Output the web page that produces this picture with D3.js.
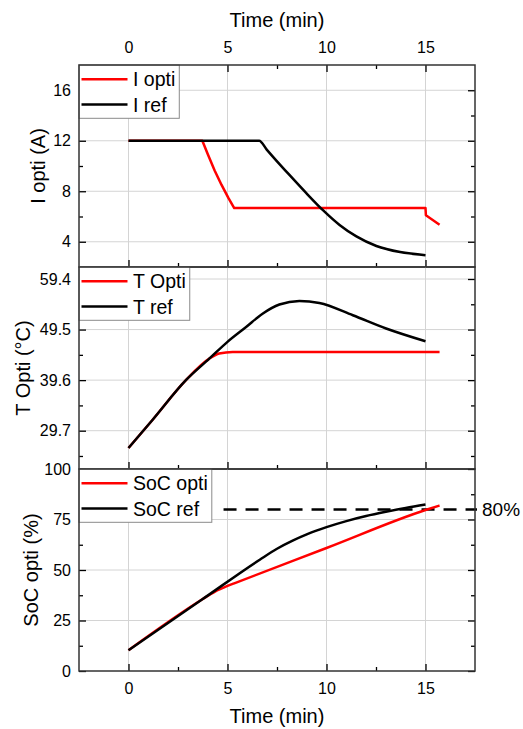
<!DOCTYPE html>
<html><head><meta charset="utf-8">
<script src="https://cdn.jsdelivr.net/npm/d3@7"></script>
<style>
body{margin:0;background:#fff}
svg{display:block}
text{font-family:"Liberation Sans",Arial,Helvetica,sans-serif;fill:#000}
</style>
</head><body>
<svg id="c" width="523" height="729"></svg>
<script>
// ---------- data ----------
const xTickValues = [0, 5, 10, 15];
const xMinorTicks = [2.5, 7.5, 12.5];
const xTitle = "Time (min)";

// Panel 1: current
const timeIopti = [0, 3.73, 4.0, 4.35, 4.7, 5.05, 5.34, 15, 15.02, 15.71];
const Iopti     = [12, 12, 10.95, 9.65, 8.5, 7.45, 6.67, 6.67, 6.1, 5.35];
const timeIref  = [0, 6.6, 6.98, 7.4, 8.14, 8.98, 9.82, 10.66, 11.51, 12.52, 13.72, 15];
const Iref      = [12, 12, 11.3, 10.55, 9.27, 7.85, 6.5, 5.33, 4.42, 3.66, 3.18, 2.94];
const iTicks = [4, 8, 12, 16];
const iMinor = [6, 10, 14];
const iDomain = [2, 18];

// Panel 2: temperature
const timeTopti = [0, 1.21, 2.9, 4.08, 4.58, 5.26, 15.71];
const Topti     = [26.3, 31.8, 39.6, 43.8, 44.8, 45.1, 45.1];
const timeTref  = [0, 1.21, 2.9, 4.08, 5.0, 5.94, 6.77, 7.62, 8.63, 9.64, 11.33, 13.01, 15];
const Tref      = [26.3, 31.8, 39.6, 43.8, 47.1, 50.0, 52.6, 54.4, 55.1, 54.7, 52.3, 49.7, 47.2];
const tTicks = [29.7, 39.6, 49.5, 59.4];
const tMinor = [24.75, 34.65, 44.55, 54.45];
const tDomain = [22.2, 61.75];

// Panel 3: state of charge
const timeSoCopti = [0, 3.73, 4.35, 5.0, 5.34, 10, 15, 15.71];
const SoCopti     = [10.3, 35.5, 39.2, 42.1, 43.4, 60.9, 79.7, 81.9];
const timeSoCref  = [0, 3.73, 6.63, 7.5, 8.29, 9.0, 10, 11, 12, 13, 14, 15];
const SoCref      = [10.3, 35.5, 55.1, 60.5, 64.5, 67.6, 71.2, 74.2, 76.7, 78.8, 80.7, 82.4];
const socTicks = [0, 25, 50, 75, 100];
const socMinor = [12.5, 37.5, 62.5, 87.5];
const socDomain = [0, 100];
const socThreshold = 80;
const socThresholdRange = [4.8, 17.6];
const socThresholdLabel = "80%";

// ---------- layout ----------
const svg = d3.select("#c");
const L = 79, R = 475;
const panelTops = [65, 267, 469];
const PH = 202;
const x = d3.scaleLinear().domain([-2.5, 17.5]).range([L, R]);

const panels = [
  {domain: iDomain, ticks: iTicks, minor: iMinor, fmt: d3.format("d"),
   title: "I opti (A)", titleX: 44.5,
   series: [
     {name: "I opti", t: timeIopti, v: Iopti, color: "#ff0000", curve: d3.curveLinear},
     {name: "I ref", t: timeIref, v: Iref, color: "#000000", curve: d3.curveMonotoneX}
   ]},
  {domain: tDomain, ticks: tTicks, minor: tMinor, fmt: d3.format(".1f"),
   title: "T Opti (°C)", titleX: 29.5,
   series: [
     {name: "T Opti", t: timeTopti, v: Topti, color: "#ff0000", curve: d3.curveMonotoneX},
     {name: "T ref", t: timeTref, v: Tref, color: "#000000", curve: d3.curveMonotoneX}
   ]},
  {domain: socDomain, ticks: socTicks, minor: socMinor, fmt: d3.format("d"),
   title: "SoC opti (%)", titleX: 37.5,
   series: [
     {name: "SoC opti", t: timeSoCopti, v: SoCopti, color: "#ff0000", curve: d3.curveMonotoneX},
     {name: "SoC ref", t: timeSoCref, v: SoCref, color: "#000000", curve: d3.curveMonotoneX}
   ]}
];

const gridColor = "#d4d4d4";
const tickLen = 7, minorLen = 4;

function styleAxis(g, fs) {
  g.select(".domain").remove();
  g.selectAll(".tick line").attr("stroke", "#000").attr("stroke-width", 1.3);
  g.selectAll(".tick text").attr("font-size", fs).attr("fill", "#000")
    .attr("font-family", '"Liberation Sans",Arial,sans-serif');
}

panels.forEach((p, i) => {
  const top = panelTops[i], bot = top + PH;
  const y = d3.scaleLinear().domain(p.domain).range([bot, top]);
  const g = svg.append("g");

  // grid
  g.append("g").selectAll("line").data(xTickValues).join("line")
    .attr("x1", d => x(d)).attr("x2", d => x(d)).attr("y1", top).attr("y2", bot)
    .attr("stroke", gridColor).attr("stroke-width", 1);
  g.append("g").selectAll("line").data(p.ticks.filter(d => y(d) > top + 0.5 && y(d) < bot - 0.5)).join("line")
    .attr("x1", L).attr("x2", R).attr("y1", d => y(d)).attr("y2", d => y(d))
    .attr("stroke", gridColor).attr("stroke-width", 1);

  // threshold dashed line (panel 3)
  if (i === 2) {
    g.append("line")
      .attr("x1", x(socThresholdRange[0])).attr("x2", x(socThresholdRange[1]))
      .attr("y1", y(socThreshold)).attr("y2", y(socThreshold))
      .attr("stroke", "#000").attr("stroke-width", 2.5).attr("stroke-dasharray", "13,9");
    g.append("text").attr("x", R + 7).attr("y", y(socThreshold)).attr("dy", "0.36em")
      .attr("font-size", 19).text(socThresholdLabel);
  }

  // series
  p.series.forEach(s => {
    const pts = s.t.map((t, k) => [t, s.v[k]]);
    g.append("path").datum(pts)
      .attr("d", d3.line().x(d => x(d[0])).y(d => y(d[1])).curve(s.curve))
      .attr("fill", "none").attr("stroke", s.color).attr("stroke-width", 2.5)
      .attr("stroke-linejoin", "round");
  });

  // axes: left (labels), right, bottom
  const la = g.append("g").attr("transform", `translate(${L},0)`)
    .call(d3.axisLeft(y).tickValues(p.ticks).tickSize(-tickLen).tickPadding(8).tickFormat(p.fmt));
  styleAxis(la, 16);
  const lm = g.append("g").attr("transform", `translate(${L},0)`)
    .call(d3.axisLeft(y).tickValues(p.minor).tickSize(-minorLen).tickFormat(""));
  styleAxis(lm, 16);
  const ra = g.append("g").attr("transform", `translate(${R},0)`)
    .call(d3.axisRight(y).tickValues(p.ticks).tickSize(-tickLen).tickFormat(""));
  styleAxis(ra, 16);
  const rm = g.append("g").attr("transform", `translate(${R},0)`)
    .call(d3.axisRight(y).tickValues(p.minor).tickSize(-minorLen).tickFormat(""));
  styleAxis(rm, 16);

  const ba = g.append("g").attr("transform", `translate(0,${bot})`)
    .call(d3.axisBottom(x).tickValues(xTickValues).tickSize(-tickLen).tickPadding(12)
      .tickFormat(i === 2 ? d3.format("d") : ""));
  styleAxis(ba, 16);
  const bm = g.append("g").attr("transform", `translate(0,${bot})`)
    .call(d3.axisBottom(x).tickValues(xMinorTicks).tickSize(-minorLen).tickFormat(""));
  styleAxis(bm, 16);

  if (i === 0) {
    const ta = g.append("g").attr("transform", `translate(0,${top})`)
      .call(d3.axisTop(x).tickValues(xTickValues).tickSize(-tickLen).tickPadding(12).tickFormat(d3.format("d")));
    styleAxis(ta, 16);
    const tm = g.append("g").attr("transform", `translate(0,${top})`)
      .call(d3.axisTop(x).tickValues(xMinorTicks).tickSize(-minorLen).tickFormat(""));
    styleAxis(tm, 16);
  }

  // legend
  const lg = g.append("g");
  const box = lg.append("rect").attr("x", L).attr("y", top)
    .attr("fill", "#fff").attr("stroke", "#8a8a8a").attr("stroke-width", 1);
  let maxW = 0;
  p.series.forEach((s, k) => {
    const ly = top + 14.3 + k * 25.2;
    lg.append("line").attr("x1", L + 2.5).attr("x2", L + 48.5).attr("y1", ly).attr("y2", ly)
      .attr("stroke", s.color).attr("stroke-width", 2.5);
    const t = lg.append("text").attr("x", L + 54).attr("y", ly).attr("dy", "0.36em")
      .attr("font-size", 19.5).text(s.name);
    maxW = Math.max(maxW, t.node().getComputedTextLength());
  });
  box.attr("width", 54 + maxW + 4).attr("height", 53.3);

  // y title
  g.append("text").attr("transform", `translate(${p.titleX},${(top + bot) / 2}) rotate(-90)`)
    .attr("text-anchor", "middle").attr("font-size", 20).text(p.title);

  // frame
  g.append("rect").attr("x", L).attr("y", top).attr("width", R - L).attr("height", PH)
    .attr("fill", "none").attr("stroke", "#333").attr("stroke-width", 1.5);
});

// x titles
svg.append("text").attr("x", (L + R) / 2).attr("y", 27).attr("text-anchor", "middle")
  .attr("font-size", 20).text(xTitle);
svg.append("text").attr("x", (L + R) / 2).attr("y", 723).attr("text-anchor", "middle")
  .attr("font-size", 20).text(xTitle);
</script>
</body></html>
